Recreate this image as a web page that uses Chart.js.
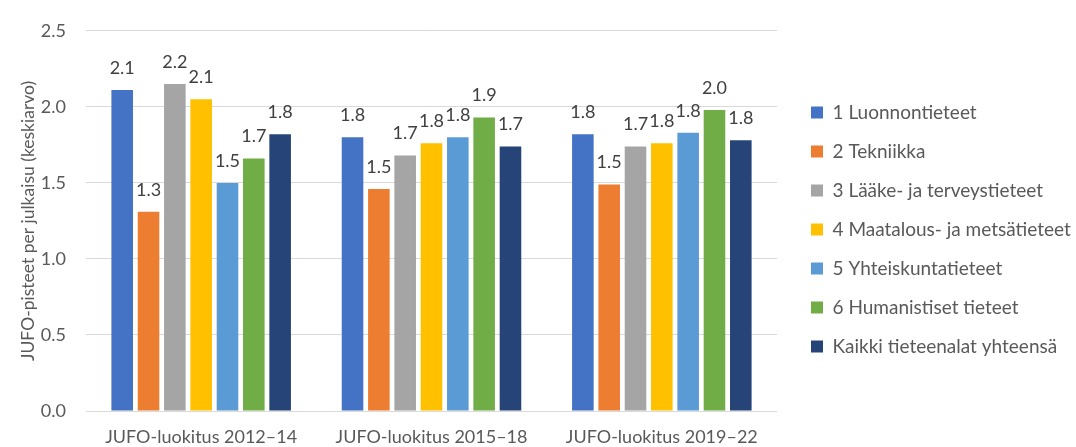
<!DOCTYPE html>
<html>
<head>
<meta charset="utf-8">
<script src="https://cdn.jsdelivr.net/npm/chart.js@4/dist/chart.umd.min.js"></script>
<style>
  html, body { margin: 0; padding: 0; background: #ffffff; }
  #wrap { position: relative; width: 1076px; height: 447px; }
</style>
</head>
<body>
<div id="wrap"><canvas id="c" width="1076" height="447"></canvas></div>
<script>
const categories = ['JUFO-luokitus 2012–14', 'JUFO-luokitus 2015–18', 'JUFO-luokitus 2019–22'];
const seriesNames = [
  '1 Luonnontieteet',
  '2 Tekniikka',
  '3 Lääke- ja terveystieteet',
  '4 Maatalous- ja metsätieteet',
  '5 Yhteiskuntatieteet',
  '6 Humanistiset tieteet',
  'Kaikki tieteenalat yhteensä'
];
const luonnontieteet = [2.11, 1.80, 1.82];
const tekniikka = [1.31, 1.46, 1.49];
const laake = [2.15, 1.68, 1.74];
const maatalous = [2.05, 1.76, 1.76];
const yhteiskunta = [1.50, 1.80, 1.83];
const humanistiset = [1.66, 1.93, 1.98];
const kaikki = [1.82, 1.74, 1.78];
const yTicks = [0, 0.5, 1.0, 1.5, 2.0, 2.5];
const yTitle = 'JUFO-pisteet per julkaisu (keskiarvo)';

const seriesValues = [luonnontieteet, tekniikka, laake, maatalous, yhteiskunta, humanistiset, kaikki];
const colors = ['#4472C4', '#ED7D31', '#A5A5A5', '#FFC000', '#5B9BD5', '#70AD47', '#264478'];

const FONT = 'Lato, "Open Sans", sans-serif';
const TXT = '#595959';

const fmt1 = v => (Math.round(v * 10 + 1e-6) / 10).toFixed(1);

const datasets = seriesNames.map((name, i) => ({
  label: name,
  data: seriesValues[i],
  backgroundColor: colors[i],
  borderWidth: 0,
  categoryPercentage: 0.8,
  barPercentage: 0.82
}));

const valueLabels = {
  id: 'valueLabels',
  afterDatasetsDraw(chart) {
    const ctx = chart.ctx;
    ctx.save();
    ctx.font = '18px ' + FONT;
    ctx.fillStyle = '#404040';
    ctx.textAlign = 'center';
    ctx.textBaseline = 'middle';
    chart.data.datasets.forEach((ds, di) => {
      const meta = chart.getDatasetMeta(di);
      meta.data.forEach((el, idx) => {
        ctx.fillText(fmt1(ds.data[idx]), el.x, el.y - 22);
      });
    });
    ctx.restore();
  }
};

const legendPlace = {
  id: 'legendPlace',
  afterInit(chart) {
    const lg = chart.legend;
    const f = lg.fit;
    lg.fit = function () { f.call(this); this.width = 299; };
  },
  afterLayout(chart) {
    const lg = chart.legend;
    const pad = lg.options.labels.padding;
    const w = lg.width, h = lg.height;
    lg.left = 811 - pad;
    lg.top = 103 - pad;
    lg.right = lg.left + w;
    lg.bottom = lg.top + h;
  }
};

new Chart(document.getElementById('c'), {
  type: 'bar',
  data: { labels: categories, datasets },
  plugins: [valueLabels, legendPlace],
  options: {
    responsive: false,
    animation: false,
    layout: { padding: { top: 20, left: 0, right: 0, bottom: 0 } },
    plugins: {
      tooltip: { enabled: false },
      legend: {
        position: 'right',
        align: 'start',
        labels: {
          boxWidth: 12,
          boxHeight: 12,
          padding: 20,
          color: TXT,
          font: { family: FONT, size: 19 }
        }
      }
    },
    scales: {
      x: {
        grid: { display: false, drawTicks: false },
        border: { display: false },
        ticks: { color: TXT, font: { family: FONT, size: 18 }, padding: 15, maxRotation: 0 },
        afterFit(s) { s.height = 36; }
      },
      y: {
        min: 0,
        max: 2.5,
        afterBuildTicks(s) { s.ticks = yTicks.map(v => ({ value: v })); },
        grid: { color: '#D9D9D9', lineWidth: 1, drawTicks: false },
        border: { display: false },
        ticks: {
          color: TXT,
          font: { family: FONT, size: 18 },
          padding: 20,
          callback: v => Number(v).toFixed(1)
        },
        title: {
          display: true,
          text: yTitle,
          color: TXT,
          font: { family: FONT, size: 17.5 },
          padding: { top: 18, bottom: 0 }
        },
        afterFit(s) { s.width = 86; }
      }
    }
  }
});
</script>
</body>
</html>
